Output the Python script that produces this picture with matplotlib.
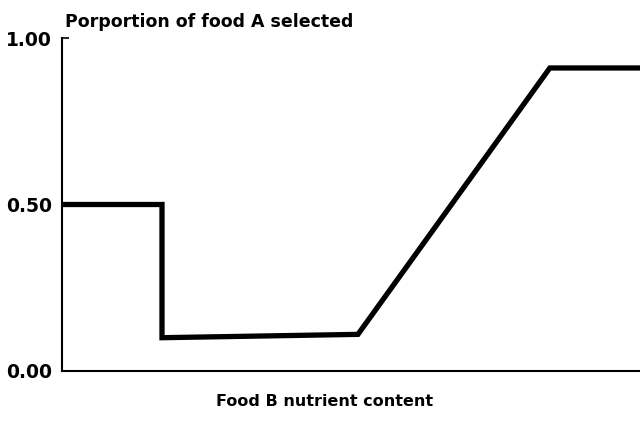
import matplotlib.pyplot as plt

# nutrient content of food B (arbitrary units, axis spans 0-100)
nutrient = [0, 17.3, 17.3, 51.2, 84.4, 100]
prop_a = [0.50, 0.50, 0.10, 0.11, 0.91, 0.91]
yticks = [0.0, 0.5, 1.0]
ytick_labels = ["0.00", "0.50", "1.00"]

plt.rcParams['font.family'] = ['DejaVu Sans']

fig = plt.figure(figsize=(6.4, 4.32), dpi=100)
ax = fig.add_axes([62/640, 1 - 371/432, 1 - 62/640, (371 - 38)/432])

ax.plot(nutrient, prop_a, color='black', linewidth=3.8, solid_joinstyle='miter')

ax.set_xlim(0, 100)
ax.set_ylim(0, 1)
ax.set_xticks([])
ax.set_yticks(yticks)
ax.set_yticklabels(ytick_labels, fontsize=13.5, fontweight='bold')
ax.tick_params(axis='y', direction='in', length=5, width=1.2, pad=7)
for s in ['top', 'right']:
    ax.spines[s].set_visible(False)
for s in ['left', 'bottom']:
    ax.spines[s].set_linewidth(1.5)

fig.text(65/640, 1 - 22/432, "Porportion of food A selected", fontsize=12.5,
         fontweight='bold', ha='left', va='center')
fig.text(325/640, 1 - 402/432, "Food B nutrient content", fontsize=11.5,
         fontweight='bold', ha='center', va='center')

fig.savefig("out.png", dpi=100)
